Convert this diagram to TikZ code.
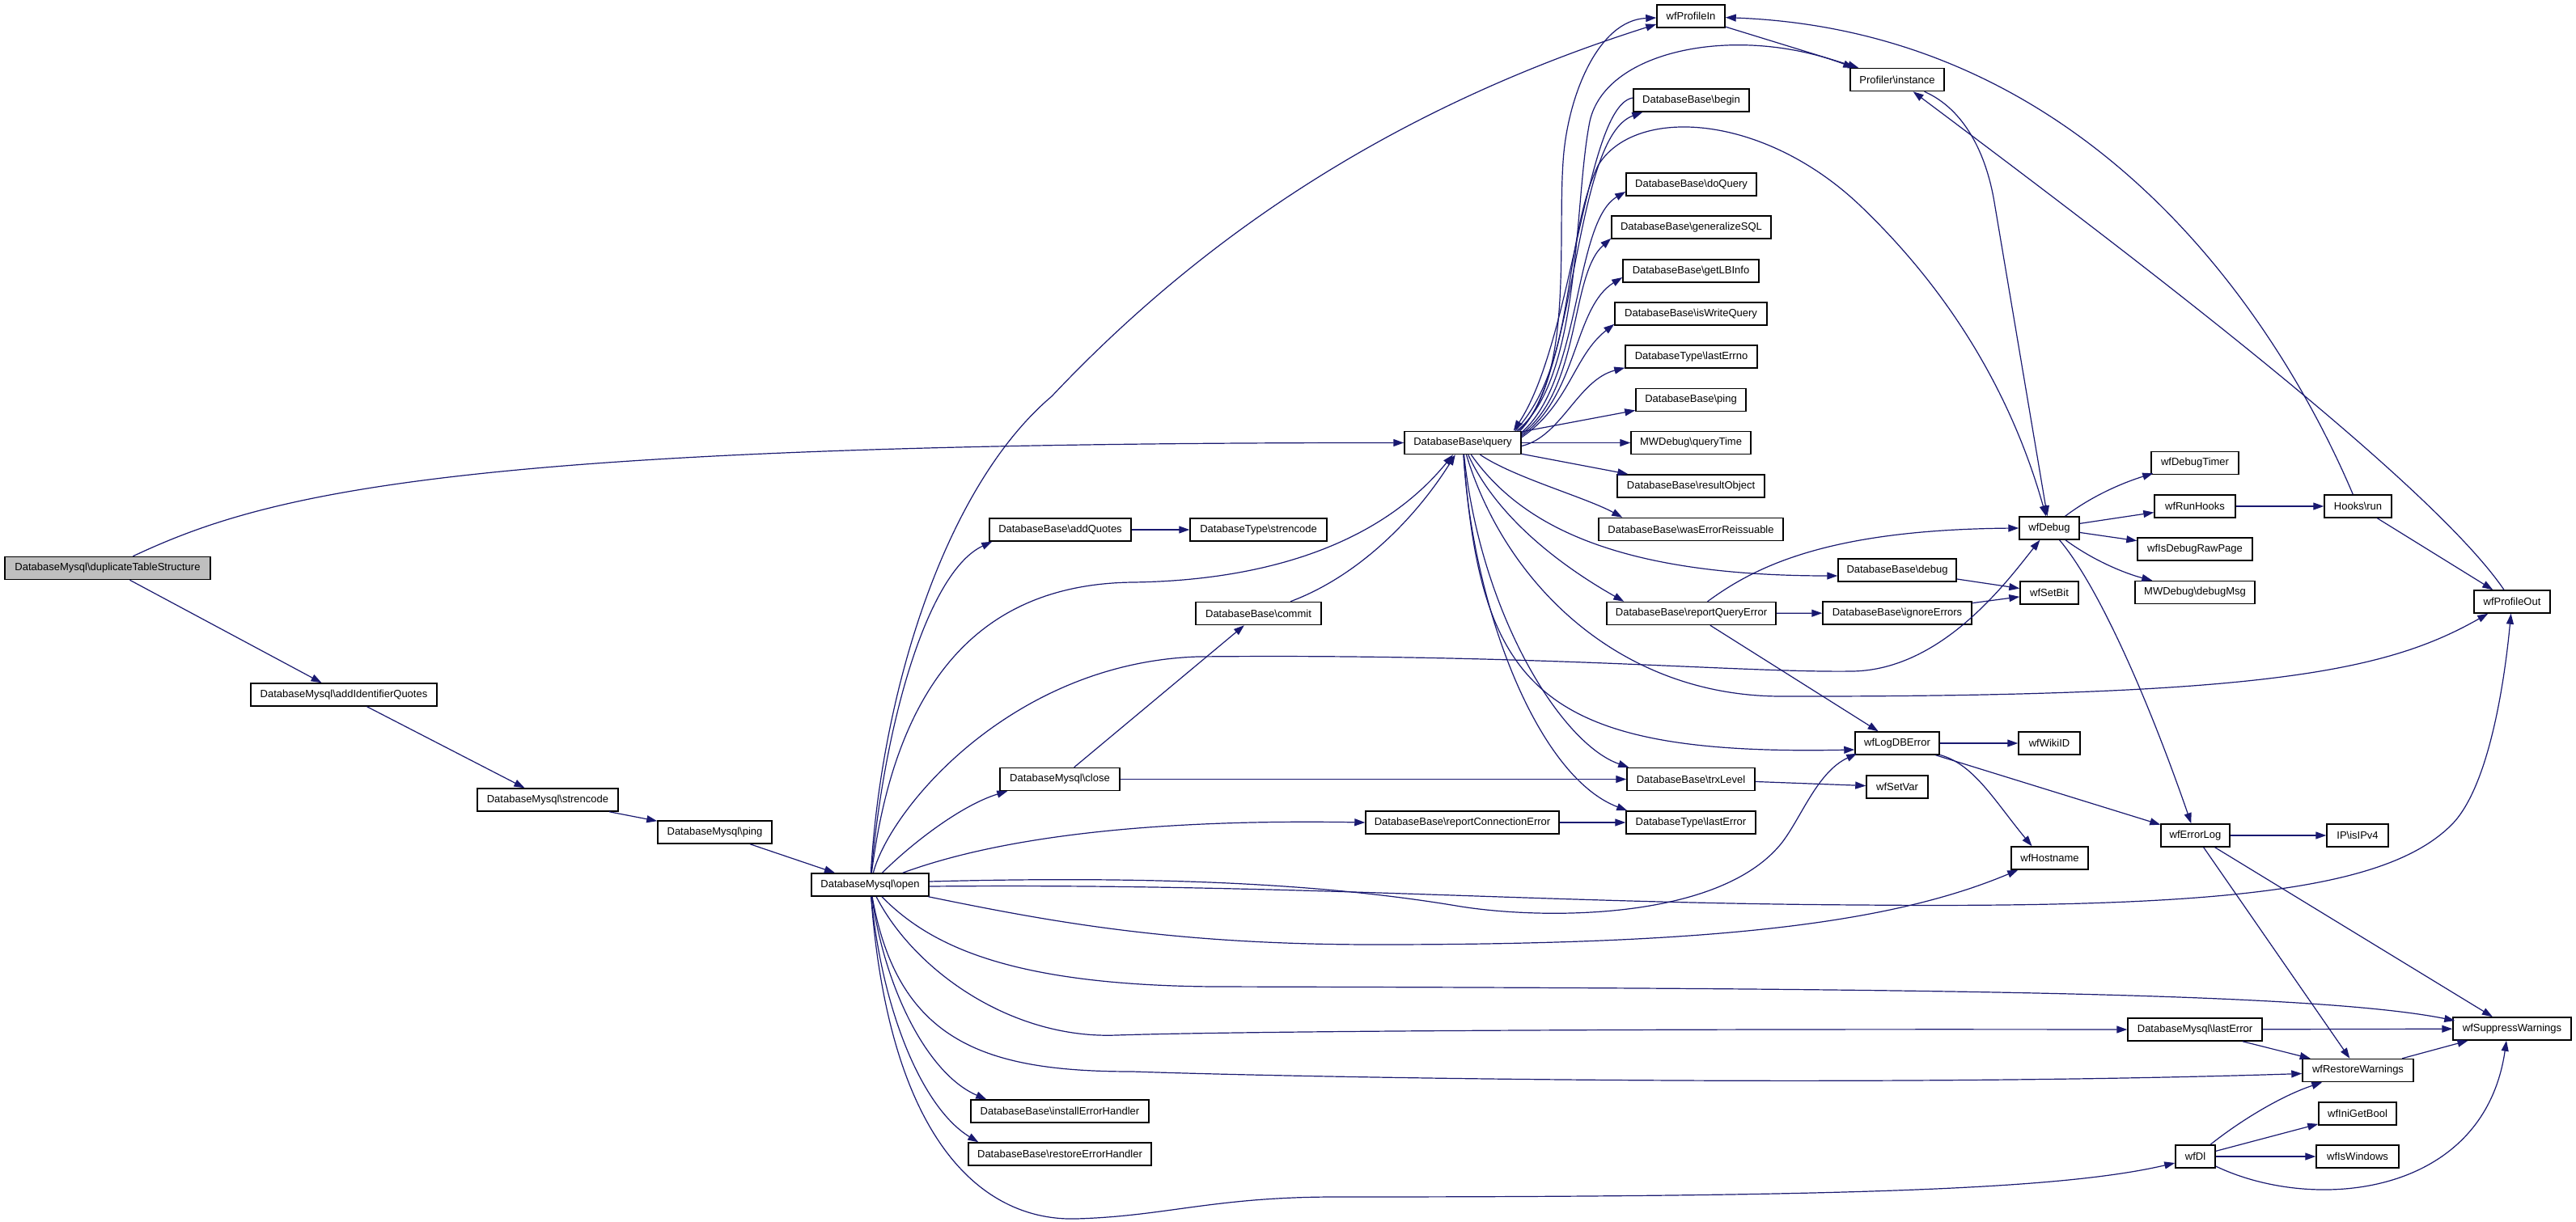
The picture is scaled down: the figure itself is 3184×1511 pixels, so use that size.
\documentclass[tikz,border=0pt]{standalone}
\usepackage{fontspec}
\setmainfont{Liberation Sans}
\usetikzlibrary{arrows.meta,calc}
\definecolor{mblue}{HTML}{191970}
\definecolor{dupgray}{HTML}{BFBFBF}
\newcommand{\BS}{\textbackslash}
\begin{document}
\begin{tikzpicture}[x=1pt,y=-1pt,
  box/.style={draw=black, fill=white, line width=1.5pt, minimum height=28pt, inner sep=0pt, font=\fontsize{13pt}{15pt}\selectfont},
  conn/.style={draw=mblue, line width=1.2pt, -{Triangle[length=13pt,width=9pt]}}]
\fill[white] (0,0) rectangle (3184,1511);
\useasboundingbox (0,0) rectangle (3184,1511);

% nodes
\node[box,minimum width=254pt,fill=dupgray] (dup) at (133,702.5) {DatabaseMysql\BS duplicateTableStructure};
\node[box,minimum width=230pt] (addIdQ) at (425,859) {DatabaseMysql\BS addIdentifierQuotes};
\node[box,minimum width=174pt] (mstrencode) at (677,989) {DatabaseMysql\BS strencode};
\node[box,minimum width=141pt] (mping) at (883.5,1029) {DatabaseMysql\BS ping};
\node[box,minimum width=145pt] (open) at (1075.5,1094) {DatabaseMysql\BS open};
\node[box,minimum width=144pt] (query) at (1808,547.5) {DatabaseBase\BS query};
\node[box,minimum width=175pt] (addQuotes) at (1310.5,655) {DatabaseBase\BS addQuotes};
\node[box,minimum width=169pt] (tstrencode) at (1555.5,655) {DatabaseType\BS strencode};
\node[box,minimum width=155pt] (commit) at (1555.5,758.5) {DatabaseBase\BS commit};
\node[box,minimum width=148pt] (close) at (1310,963.5) {DatabaseMysql\BS close};
\node[box,minimum width=239pt] (repConnErr) at (1807.5,1017) {DatabaseBase\BS reportConnectionError};
\node[box,minimum width=220pt] (install) at (1310,1374) {DatabaseBase\BS installErrorHandler};
\node[box,minimum width=226pt] (restore) at (1310,1427) {DatabaseBase\BS restoreErrorHandler};
\node[box,minimum width=84pt] (wfProfileIn) at (2090,20) {wfProfileIn};
\node[box,minimum width=143pt] (begin) at (2090.5,124) {DatabaseBase\BS begin};
\node[box,minimum width=161pt] (doQuery) at (2090.5,228) {DatabaseBase\BS doQuery};
\node[box,minimum width=197pt] (genSQL) at (2090.5,281) {DatabaseBase\BS generalizeSQL};
\node[box,minimum width=168pt] (getLB) at (2090,335) {DatabaseBase\BS getLBInfo};
\node[box,minimum width=188pt] (isWrite) at (2090,388) {DatabaseBase\BS isWriteQuery};
\node[box,minimum width=163pt] (lastErrno) at (2090.5,441) {DatabaseType\BS lastErrno};
\node[box,minimum width=136pt] (bping) at (2090,494.5) {DatabaseBase\BS ping};
\node[box,minimum width=148pt] (queryTime) at (2090,547.5) {MWDebug\BS queryTime};
\node[box,minimum width=182pt] (resultObject) at (2090,601) {DatabaseBase\BS resultObject};
\node[box,minimum width=228pt] (wasErr) at (2090,654.5) {DatabaseBase\BS wasErrorReissuable};
\node[box,minimum width=209pt] (repQErr) at (2090.5,758.5) {DatabaseBase\BS reportQueryError};
\node[box,minimum width=158pt] (trxLevel) at (2090,963.5) {DatabaseBase\BS trxLevel};
\node[box,minimum width=160pt] (tlastError) at (2090,1017) {DatabaseType\BS lastError};
\node[box,minimum width=116pt] (profInst) at (2345,98.5) {Profiler\BS instance};
\node[box,minimum width=74pt] (wfDebug) at (2533,653) {wfDebug};
\node[box,minimum width=146pt] (dbdebug) at (2345,705) {DatabaseBase\BS debug};
\node[box,minimum width=184pt] (ignoreErrors) at (2345,758) {DatabaseBase\BS ignoreErrors};
\node[box,minimum width=72pt] (wfSetBit) at (2533,733) {wfSetBit};
\node[box,minimum width=104pt] (wfLogDBError) at (2345,919) {wfLogDBError};
\node[box,minimum width=76pt] (wfSetVar) at (2345,973) {wfSetVar};
\node[box,minimum width=76pt] (wfWikiID) at (2533,919) {wfWikiID};
\node[box,minimum width=95pt] (wfHostname) at (2533.5,1061) {wfHostname};
\node[box,minimum width=108pt] (wfDebugTimer) at (2713,572.5) {wfDebugTimer};
\node[box,minimum width=100pt] (wfRunHooks) at (2713,626) {wfRunHooks};
\node[box,minimum width=142pt] (wfIsDebugRawPage) at (2713,679) {wfIsDebugRawPage};
\node[box,minimum width=148pt] (debugMsg) at (2713,732.5) {MWDebug\BS debugMsg};
\node[box,minimum width=83pt] (hooksRun) at (2914.5,626) {Hooks\BS run};
\node[box,minimum width=94pt] (wfProfileOut) at (3105,744) {wfProfileOut};
\node[box,minimum width=85pt] (wfErrorLog) at (2713.5,1033) {wfErrorLog};
\node[box,minimum width=76pt] (isIPv4) at (2914,1033) {IP\BS isIPv4};
\node[box,minimum width=166pt] (mlastError) at (2713,1273) {DatabaseMysql\BS lastError};
\node[box,minimum width=146pt] (wfSuppress) at (3105,1272) {wfSuppressWarnings};
\node[box,minimum width=137pt] (wfRestore) at (2914.5,1323.5) {wfRestoreWarnings};
\node[box,minimum width=96pt] (wfIniGetBool) at (2914,1377) {wfIniGetBool};
\node[box,minimum width=49pt] (wfDl) at (2713.5,1430) {wfDl};
\node[box,minimum width=102pt] (wfIsWindows) at (2914,1430) {wfIsWindows};

% left chain
\draw[conn] (dup) .. controls (330,610) and (560,547) .. (query.west);
\draw[conn] (dup) -- (addIdQ);
\draw[conn] (addIdQ) -- (mstrencode);
\draw[conn] (mstrencode) -- (mping);
\draw[conn] (mping) -- (open);

% from open
\draw[conn] (open) .. controls (1090,850) and (1170,600) .. (1300,490) .. controls (1470,310) and (1700,140) .. ($(wfProfileIn.west)+(0,10)$);
\draw[conn] (open) .. controls (1095,880) and (1150,705) .. ($(addQuotes.south west)+(4,0)$);
\draw[conn] (open) .. controls (1110,820) and (1230,722) .. (1400,720) .. controls (1550,718) and (1700,680) .. (query);
\draw[conn] (open) .. controls (1130,1040) and (1190,995) .. ($(close.south west)+(10,0)$);
\draw[conn] (open) .. controls (1250,1030) and (1450,1013) .. (repConnErr.west);
\draw[conn] (open) .. controls (1100,1000) and (1250,820) .. (1480,812) .. controls (1900,808) and (2150,832) .. (2290,830) .. controls (2400,828) and (2480,720) .. (wfDebug);
\draw[conn] ($(open.east)+(0,-4)$) .. controls (1450,1082) and (1650,1095) .. (1800,1120) .. controls (1900,1137) and (2120,1140) .. (2200,1045) .. controls (2225,1015) and (2245,955) .. ($(wfLogDBError.south west)+(3,-2)$);
\draw[conn] ($(open.east)+(0,2)$) .. controls (1600,1092) and (1900,1117) .. (2300,1119) .. controls (2750,1123) and (2950,1100) .. (3030,1020) .. controls (3075,975) and (3095,850) .. (wfProfileOut);
\draw[conn] (open) .. controls (1300,1140) and (1450,1168) .. (1700,1168) .. controls (2100,1168) and (2330,1145) .. ($(wfHostname.south west)+(9,0)$);
\draw[conn] (open) .. controls (1150,1170) and (1250,1218) .. (1500,1220) .. controls (2300,1222) and (2850,1225) .. ($(wfSuppress.west)+(3,-10)$);
\draw[conn] (open) .. controls (1130,1200) and (1250,1285) .. (1380,1280) .. controls (1500,1276) and (1900,1272) .. (mlastError.west);
\draw[conn] (open) .. controls (1110,1290) and (1220,1325) .. (1400,1325) .. controls (1600,1332) and (2300,1345) .. ($(wfRestore.west)+(0,4)$);
\draw[conn] (open) .. controls (1095,1230) and (1150,1330) .. ($(install.north west)+(20,0)$);
\draw[conn] (open) .. controls (1090,1250) and (1140,1370) .. ($(restore.north west)+(13,0)$);
\draw[conn] (open) .. controls (1100,1420) and (1220,1510) .. (1330,1507) .. controls (1440,1504) and (1500,1480) .. (1650,1480) .. controls (2300,1480) and (2550,1470) .. ($(wfDl.west)+(0,8)$);

% close, commit, misc
\draw[conn] (close) -- (commit);
\draw[conn] (close) -- (trxLevel);
\draw[conn] (commit) .. controls (1680,712) and (1750,640) .. (query);
\draw[conn] (addQuotes) -- (tstrencode);
\draw[conn] (repConnErr) -- (tlastError);

% from query (top bundle)
\draw[conn] ($(query.north east)+(-4,0)$) .. controls (1945,470) and (1925,300) .. (1932,200) .. controls (1937,120) and (1975,25) .. ($(wfProfileIn.west)+(0,2)$);
\draw[conn] ($(query.north east)+(-6,0)$) .. controls (1955,470) and (1945,250) .. (1965,150) .. controls (1985,60) and (2150,30) .. ($(profInst.north west)+(5,0)$);
\draw[conn] ($(query.north east)+(-8,0)$) .. controls (1950,450) and (1930,300) .. (1975,205) .. controls (2020,130) and (2180,140) .. (2300,255) .. controls (2420,370) and (2490,500) .. (wfDebug);
\draw[conn] ($(query.north east)+(-2,0)$) .. controls (1950,460) and (1945,170) .. ($(begin.south west)+(12,0)$);
\draw[conn] ($(begin.west)+(0,-3)$) .. controls (1960,130) and (1945,420) .. ($(query.north east)+(-10,0)$);
\draw[conn] ($(query.north east)+(0,2)$) .. controls (1955,470) and (1945,275) .. ($(doQuery.west)+(0,9)$);
\draw[conn] ($(query.north east)+(0,4)$) .. controls (1955,480) and (1940,340) .. ($(genSQL.south west)+(0,-1)$);
\draw[conn] ($(query.north east)+(0,6)$) .. controls (1950,490) and (1945,380) .. ($(getLB.west)+(0,8)$);
\draw[conn] ($(query.north east)+(0,8)$) .. controls (1940,500) and (1945,440) .. ($(isWrite.south west)+(0,-2)$);
\draw[conn] ($(query.east)+(0,4)$) .. controls (1930,540) and (1950,470) .. ($(lastErrno.south west)+(0,-1)$);
\draw[conn] (query) -- (bping);
\draw[conn] (query) -- (queryTime);
\draw[conn] (query) -- (resultObject);
\draw[conn] (query) .. controls (1870,590) and (1960,615) .. ($(wasErr.north west)+(30,0)$);
\draw[conn] (query) .. controls (1880,650) and (2000,712) .. ($(dbdebug.west)+(0,7)$);
\draw[conn] (query) .. controls (1850,640) and (1930,700) .. ($(repQErr.north west)+(22,0)$);
\draw[conn] (query) .. controls (1860,720) and (2000,860) .. (2200,861) .. controls (2800,862) and (2950,830) .. ($(wfProfileOut.south west)+(18,0)$);
\draw[conn] (query) .. controls (1830,850) and (1900,935) .. ($(wfLogDBError.west)+(0,8)$);
\draw[conn] (query) .. controls (1830,760) and (1930,920) .. ($(trxLevel.north west)+(3,0)$);
\draw[conn] (query) .. controls (1820,750) and (1900,960) .. ($(tlastError.north west)+(2,0)$);

% reportQueryError and neighbours
\draw[conn] (repQErr) .. controls (2170,700) and (2260,655) .. (wfDebug.west);
\draw[conn] (repQErr) -- (ignoreErrors);
\draw[conn] (repQErr) -- (wfLogDBError);
\draw[conn] (dbdebug) -- (wfSetBit);
\draw[conn] (ignoreErrors) -- (wfSetBit);
\draw[conn] (trxLevel) -- (wfSetVar);
\draw[conn] (wfLogDBError) -- (wfWikiID);
\draw[conn] (wfLogDBError) .. controls (2440,945) and (2465,990) .. ($(wfHostname.north)+(-22,0)$);
\draw[conn] (wfLogDBError) -- (wfErrorLog);

% profiling
\draw[conn] (wfProfileIn) -- (profInst);
\draw[conn] (profInst) .. controls (2428,135) and (2455,190) .. (2465,250) -- (wfDebug);
\draw[conn] (wfProfileOut) .. controls (3000,590) and (2600,290) .. (profInst);
\draw[conn] (hooksRun) .. controls (2840,450) and (2620,40) .. (wfProfileIn);
\draw[conn] (hooksRun) -- (wfProfileOut);

% wfDebug
\draw[conn] (wfDebug) .. controls (2590,610) and (2630,595) .. ($(wfDebugTimer.south west)+(3,-2)$);
\draw[conn] (wfDebug) -- (wfRunHooks);
\draw[conn] (wfDebug) -- (wfIsDebugRawPage);
\draw[conn] (wfDebug) .. controls (2590,695) and (2630,710) .. ($(debugMsg.north west)+(22,0)$);
\draw[conn] (wfDebug) .. controls (2590,720) and (2650,850) .. (wfErrorLog);
\draw[conn] (wfRunHooks) -- (hooksRun);

% error log and warnings
\draw[conn] (wfErrorLog) -- (isIPv4);
\draw[conn] (wfErrorLog) -- (wfRestore);
\draw[conn] (wfErrorLog) -- (wfSuppress);
\draw[conn] (mlastError) -- (wfSuppress);
\draw[conn] (mlastError) -- (wfRestore);
\draw[conn] (wfRestore) -- (wfSuppress);
\draw[conn] (wfDl) .. controls (2770,1385) and (2820,1355) .. ($(wfRestore.south west)+(25,0)$);
\draw[conn] (wfDl) -- (wfIniGetBool);
\draw[conn] (wfDl) -- (wfIsWindows);
\draw[conn] (wfDl) .. controls (2860,1500) and (3070,1480) .. ($(wfSuppress.south)+(-7,0)$);
\end{tikzpicture}
\end{document}
